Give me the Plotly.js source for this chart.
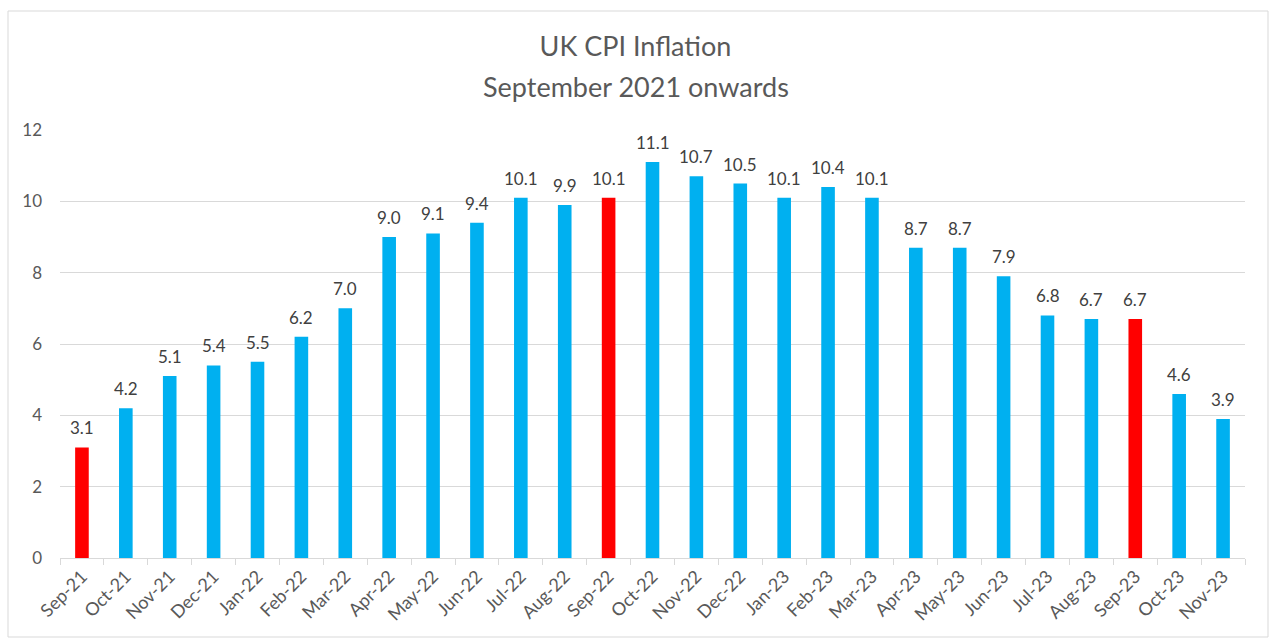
<!DOCTYPE html>
<html><head><meta charset="utf-8">
<script src="https://cdn.plot.ly/plotly-3.0.1.min.js"></script>
<style>html,body{margin:0;padding:0;background:#fff;}#c{width:1271px;height:639px;}</style>
</head><body><div id="c"></div>
<script>
const months = ["Sep-21","Oct-21","Nov-21","Dec-21","Jan-22","Feb-22","Mar-22","Apr-22","May-22","Jun-22","Jul-22","Aug-22","Sep-22","Oct-22","Nov-22","Dec-22","Jan-23","Feb-23","Mar-23","Apr-23","May-23","Jun-23","Jul-23","Aug-23","Sep-23","Oct-23","Nov-23"];
const cpi = [3.1,4.2,5.1,5.4,5.5,6.2,7.0,9.0,9.1,9.4,10.1,9.9,10.1,11.1,10.7,10.5,10.1,10.4,10.1,8.7,8.7,7.9,6.8,6.7,6.7,4.6,3.9];
const highlight = ["Sep-21","Sep-22","Sep-23"];
const yTicks = [0,2,4,6,8,10,12];
const titleLine1 = "UK CPI Inflation";
const titleLine2 = "September 2021 onwards";

const colors = months.map(m => highlight.includes(m) ? "#FF0000" : "#00B0F0");
const font = "Lato, 'Open Sans', sans-serif";

const trace = {
  type: "bar", x: months, y: cpi,
  marker: {color: colors, line: {width: 0}},
  width: 0.31, hoverinfo: "x+y"
};

const annotations = months.map((m, i) => ({
  x: m, y: cpi[i], xref: "x", yref: "y",
  text: cpi[i].toFixed(1), showarrow: false,
  yanchor: "bottom", yshift: 7,
  font: {family: font, size: 17, color: "#404040"}
}));
annotations.push({
  text: titleLine2, showarrow: false,
  xref: "paper", yref: "paper",
  x: (635.5-60)/1185, y: (558-86)/428, xanchor: "center", yanchor: "middle",
  font: {family: font, size: 27, color: "#595959"}
});

const layout = {
  width: 1271, height: 639,
  margin: {l: 60, r: 26, t: 130, b: 81},
  paper_bgcolor: "#fff", plot_bgcolor: "#fff",
  showlegend: false,
  title: {
    text: titleLine1,
    x: 0.5, xref: "container", xanchor: "center",
    y: 1 - 47/639, yref: "container", yanchor: "middle",
    font: {family: font, size: 27, color: "#595959"}
  },
  xaxis: {
    type: "category", tickangle: -45,
    showline: true, linecolor: "#d9d9d9", linewidth: 1,
    ticks: "outside", ticklen: 6, tickcolor: "#d9d9d9", tickson: "boundaries",
    showgrid: false, zeroline: false,
    tickfont: {family: font, size: 18, color: "#595959"}
  },
  yaxis: {
    range: [0, 12], tickvals: yTicks, ticktext: yTicks.map(String),
    showgrid: true, gridcolor: "#d9d9d9", gridwidth: 1,
    zeroline: false, showline: false, ticks: "",
    ticklabelstandoff: 17,
    tickfont: {family: font, size: 17, color: "#595959"}
  },
  annotations: annotations,
  shapes: [{
    type: "rect", xref: "paper", yref: "paper",
    x0: (8-60)/1185, x1: (1268-60)/1185,
    y0: (558-637)/428, y1: (558-11)/428,
    line: {color: "#d9d9d9", width: 1}, fillcolor: "rgba(0,0,0,0)", layer: "below"
  }]
};

Plotly.newPlot("c", [trace], layout, {displayModeBar: false, staticPlot: true});
</script></body></html>
